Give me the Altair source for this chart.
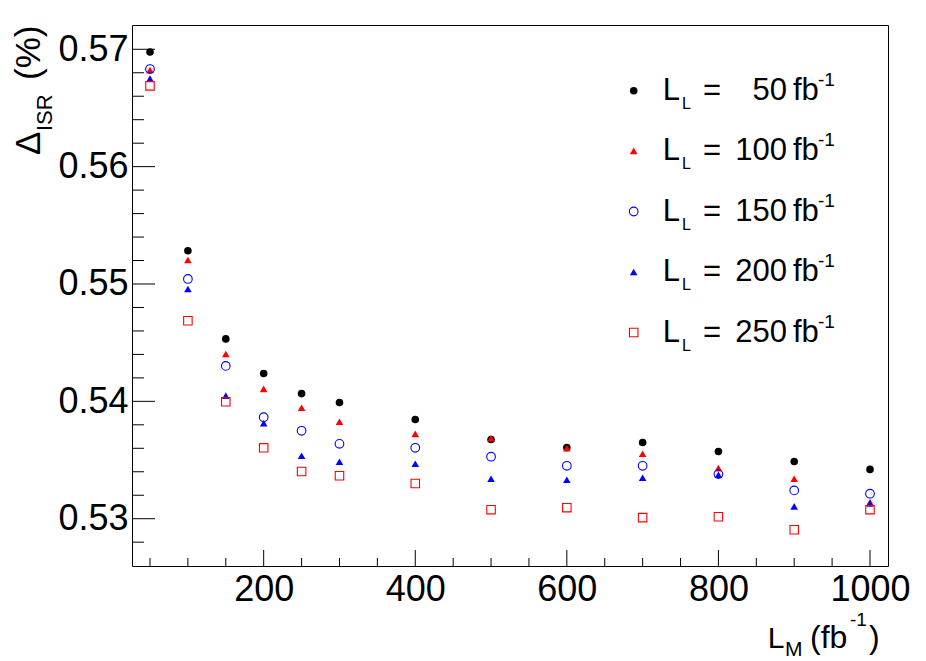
import altair as alt
import pandas as pd

# ---------------- data ----------------
x_vals = [50, 100, 150, 200, 250, 300, 400, 500, 600, 700, 800, 900, 1000]
d50 = [0.56977, 0.55283, 0.54532, 0.54237, 0.54066, 0.53990, 0.53845, 0.53675, 0.53607, 0.53649, 0.53573, 0.53488, 0.53420]
d100 = [0.56824, 0.55204, 0.54404, 0.54106, 0.53945, 0.53826, 0.53723, 0.53686, 0.53600, 0.53553, 0.53431, 0.53340, 0.53141]
d150 = [0.56832, 0.55043, 0.54302, 0.53865, 0.53749, 0.53638, 0.53604, 0.53528, 0.53451, 0.53451, 0.53380, 0.53241, 0.53213]
d200 = [0.56750, 0.54957, 0.54049, 0.53814, 0.53536, 0.53485, 0.53468, 0.53340, 0.53332, 0.53349, 0.53374, 0.53105, 0.53130]
d250 = [0.56688, 0.54687, 0.53996, 0.53604, 0.53402, 0.53366, 0.53300, 0.53077, 0.53094, 0.53009, 0.53017, 0.52906, 0.53077]
series_names = ["50", "100", "150", "200", "250"]
series_data = [d50, d100, d150, d200, d250]

x_major = [200, 400, 600, 800, 1000]
x_minor = [50, 100, 150, 250, 300, 350, 450, 500, 550, 650, 700, 750, 850, 900, 950]
y_major = [0.53, 0.54, 0.55, 0.56, 0.57]
y_minor = [0.528, 0.532, 0.534, 0.536, 0.538, 0.542, 0.544, 0.546, 0.548,
           0.552, 0.554, 0.556, 0.558, 0.562, 0.564, 0.566, 0.568]

rows = []
for name, vals in zip(series_names, series_data):
    for xv, yv in zip(x_vals, vals):
        rows.append({"series": name, "x": xv, "y": yv})
df = pd.DataFrame(rows)

# ---------------- layout ----------------
W, H = 756, 541
FONT = "Liberation Sans"

xs = alt.Scale(domain=[26.25, 1023.75], nice=False, zero=False)
ys = alt.Scale(domain=[0.52597, 0.57207], nice=False, zero=False)
xaxis = alt.Axis(values=x_major, format="d", title=None, grid=False, domain=False,
                 ticks=False, tickSize=0, labelFont=FONT, labelFontSize=36,
                 labelColor="black", labelPadding=6, labelFlush=False, labelOverlap=False)
yaxis = alt.Axis(values=y_major, format=".2f", title=None, grid=False, domain=False,
                 ticks=False, tickSize=0, labelFont=FONT, labelFontSize=36,
                 labelColor="black", labelPadding=4, labelOverlap=False)

styles = {
    "50": dict(shape="circle", filled=True, color="#000000", size=58),
    "100": dict(shape="triangle-up", filled=True, color="#ff0000", size=58),
    "150": dict(shape="circle", filled=False, color="#0000ff", size=75, strokeWidth=1.1),
    "200": dict(shape="triangle-up", filled=True, color="#0000ff", size=58),
    "250": dict(shape="square", filled=False, color="#ff0000", size=72, strokeWidth=1.1),
}

layers = []

# inward ticks (ROOT style)
def yticks(vals, length):
    return alt.Chart(pd.DataFrame({"v": vals})).mark_rule(color="black", strokeWidth=1).encode(
        y=alt.Y("v:Q", scale=ys, axis=yaxis), x=alt.value(0), x2=alt.value(length))

def xticks(vals, length):
    return alt.Chart(pd.DataFrame({"v": vals})).mark_rule(color="black", strokeWidth=1).encode(
        x=alt.X("v:Q", scale=xs, axis=xaxis), y=alt.value(H), y2=alt.value(H - length))

layers += [yticks(y_major, 23), yticks(y_minor, 12), xticks(x_major, 16), xticks(x_minor, 8)]

# data points
for name in series_names:
    layers.append(
        alt.Chart(df).transform_filter(alt.datum.series == name)
        .mark_point(opacity=1, **styles[name])
        .encode(x=alt.X("x:Q", scale=xs, axis=xaxis), y=alt.Y("y:Q", scale=ys, axis=yaxis))
    )

one = pd.DataFrame({"a": [0]})

def txt(s, x, y, size, angle=0, align="left"):
    return alt.Chart(one).mark_text(text=s, font=FONT, fontSize=size, color="black",
                                    align=align, baseline="alphabetic", angle=angle).encode(
        x=alt.value(x), y=alt.value(y))

# legend (manual, to allow sub/superscripts)
row_y = [65.7, 125.9, 186.5, 247.0, 307.5]
for name, ry in zip(series_names, row_y):
    layers.append(alt.Chart(one).mark_point(opacity=1, **styles[name]).encode(
        x=alt.value(501.7), y=alt.value(ry)))
    layers.append(txt("L", 530.7, ry + 9.3, 31))
    layers.append(txt("L", 550, ry + 18.3, 16))
    layers.append(txt("=", 571, ry + 9.3, 31))
    layers.append(txt(name, 655, ry + 9.3, 31, align="right"))
    layers.append(txt("fb", 661, ry + 9.3, 31))
    layers.append(txt("-1", 686, ry - 5, 19))

# x title: L_M (fb^-1)
layers += [
    txt("L", 635.8, 622.7, 30),
    txt("M", 653, 631, 21),
    txt("(fb", 678, 622.7, 32),
    txt("-1", 718, 601, 19),
    txt(")", 737, 622.7, 32),
]

# y title: Delta_ISR (%)
layers += [
    txt("\u0394", -92, 130, 35, angle=270),
    txt("ISR", -80, 106, 22, angle=270),
    txt("(%)", -92, 55, 35, angle=270),
]

chart = alt.layer(*layers).properties(
    width=W, height=H,
    padding={"left": 124, "top": 17, "right": 30, "bottom": 95},
    autosize=alt.AutoSizeParams(type="none"),
    background="white",
).configure_view(stroke="black", strokeWidth=1)

chart.save("out.html", embed_options={"renderer": "svg", "actions": False})
